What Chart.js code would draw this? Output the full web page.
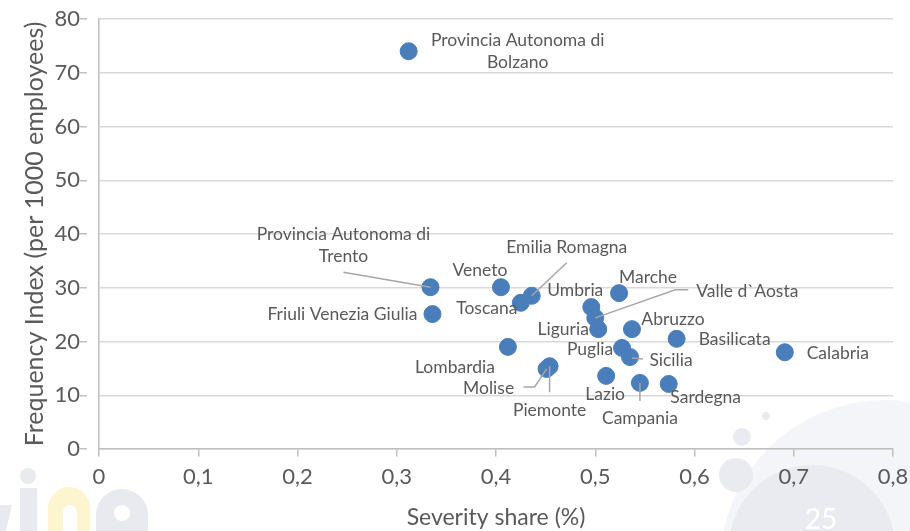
<!DOCTYPE html>
<html>
<head>
<meta charset="utf-8">
<script src="https://cdn.jsdelivr.net/npm/chart.js@4.4.0/dist/chart.umd.min.js"></script>
<style>
  body { margin: 0; background: #fff; }
  #wrap { width: 910px; height: 531px; }
</style>
</head>
<body>
<div id="wrap"><canvas id="scatterChart" width="910" height="531"></canvas></div>
<script>
// Data
const regions = [
    'Provincia Autonoma di Bolzano', 'Provincia Autonoma di Trento', 'Friuli Venezia Giulia',
    'Veneto', 'Emilia Romagna', 'Toscana', 'Umbria', 'Valle d`Aosta', 'Liguria', 'Marche',
    'Abruzzo', 'Basilicata', 'Calabria', 'Puglia', 'Sicilia', 'Lombardia', 'Molise',
    'Piemonte', 'Lazio', 'Campania', 'Sardegna'
];
const severityShare = [
    0.312, 0.334, 0.336, 0.405, 0.436, 0.425, 0.496, 0.500, 0.503, 0.524,
    0.537, 0.582, 0.691, 0.527, 0.535, 0.412, 0.451, 0.454, 0.511, 0.545, 0.574
];
const frequencyIndex = [
    74.0, 30.1, 25.1, 30.1, 28.5, 27.2, 26.4, 24.4, 22.3, 29.0,
    22.3, 20.5, 18.0, 18.8, 17.1, 19.0, 14.9, 15.4, 13.6, 12.3, 12.1
];
const xTicks = [0, 0.1, 0.2, 0.3, 0.4, 0.5, 0.6, 0.7, 0.8];
const yTicks = [0, 10, 20, 30, 40, 50, 60, 70, 80];

// Label placement (pixel offsets from each point) and leader lines
const labelLayout = {
    'Provincia Autonoma di Bolzano': { dx: 109, dy: -11, lines: ['Provincia Autonoma di', 'Bolzano'] },
    'Provincia Autonoma di Trento': { dx: -87, dy: -53, lines: ['Provincia Autonoma di', 'Trento'], leader: [[-87, -15], [0, 0]] },
    'Friuli Venezia Giulia': { dx: -15, dy: 0, align: 'right' },
    'Veneto': { dx: -21, dy: -17 },
    'Emilia Romagna': { dx: 35, dy: -48, leader: [[35, -33], [0, 0]] },
    'Toscana': { dx: -34, dy: 6 },
    'Umbria': { dx: -16, dy: -17 },
    'Valle d`Aosta': { dx: 101, dy: -26, align: 'left', leader: [[0, 0], [80, -28], [93, -28]] },
    'Liguria': { dx: -35, dy: 0 },
    'Marche': { dx: 29, dy: -16 },
    'Abruzzo': { dx: 41, dy: -10 },
    'Basilicata': { dx: 58, dy: 1 },
    'Calabria': { dx: 53, dy: 1 },
    'Puglia': { dx: -32, dy: 1 },
    'Sicilia': { dx: 41, dy: 3, leader: [[2, 1], [13, 2]] },
    'Lombardia': { dx: -53, dy: 20 },
    'Molise': { dx: -58, dy: 19, leader: [[-23, 18], [-12, 18], [0, 0]] },
    'Piemonte': { dx: 0, dy: 44, leader: [[0, 0], [0, 26]] },
    'Lazio': { dx: -1, dy: 18 },
    'Campania': { dx: 0, dy: 35, leader: [[0, 0], [0, 18]] },
    'Sardegna': { dx: 37, dy: 13 }
};

const textColor = '#595959';
const fontFamily = 'Lato, "Open Sans", sans-serif';

// Faint slide decorations behind the chart
const slideBackground = {
    id: 'slideBackground',
    beforeDraw(chart) {
        const ctx = chart.ctx;
        ctx.save();
        ctx.fillStyle = '#ffffff';
        ctx.fillRect(0, 0, chart.width, chart.height);

        // bottom right circles
        ctx.fillStyle = '#fdeee2';
        ctx.beginPath(); ctx.arc(918, 440, 18, 0, Math.PI * 2); ctx.fill();
        ctx.fillStyle = '#f4f5f8';
        ctx.beginPath(); ctx.arc(885, 565, 165, 0, Math.PI * 2); ctx.fill();
        ctx.fillStyle = '#e9ebf0';
        ctx.beginPath(); ctx.arc(812, 548, 83, 0, Math.PI * 2); ctx.fill();
        ctx.beginPath(); ctx.arc(742, 437, 9, 0, Math.PI * 2); ctx.fill();
        ctx.beginPath(); ctx.arc(766, 416, 4, 0, Math.PI * 2); ctx.fill();
        ctx.beginPath(); ctx.arc(736, 475, 17, 0, Math.PI * 2); ctx.fill();
        ctx.fillStyle = '#ffffff';
        ctx.font = '28px ' + fontFamily;
        ctx.textAlign = 'center';
        ctx.textBaseline = 'middle';
        ctx.fillText('25', 821, 520);

        // bottom left logo
        ctx.fillStyle = '#e8eaf0';
        ctx.beginPath(); ctx.arc(28, 476, 8, 0, Math.PI * 2); ctx.fill();
        ctx.fillRect(20, 488, 17, 43);
        ctx.beginPath(); ctx.moveTo(0, 505); ctx.lineTo(12, 505); ctx.lineTo(6, 531); ctx.lineTo(0, 531); ctx.fill();
        ctx.beginPath(); ctx.roundRect(96, 489, 52, 60, [26, 26, 0, 0]); ctx.fill();
        ctx.fillStyle = '#fdf5cf';
        ctx.beginPath(); ctx.roundRect(48, 487, 42, 60, [21, 21, 0, 0]); ctx.fill();
        ctx.fillStyle = '#ffffff';
        ctx.beginPath(); ctx.roundRect(63, 505, 14, 40, [7, 7, 0, 0]); ctx.fill();
        ctx.beginPath(); ctx.arc(122, 513, 8, 0, Math.PI * 2); ctx.fill();
        ctx.restore();
    }
};

// Region names next to the points, with leader lines where needed
const pointLabels = {
    id: 'pointLabels',
    afterDatasetsDraw(chart) {
        const ctx = chart.ctx;
        const meta = chart.getDatasetMeta(0);
        ctx.save();
        ctx.font = '17.5px ' + fontFamily;
        ctx.fillStyle = textColor;
        ctx.strokeStyle = '#a6a6a6';
        ctx.lineWidth = 1.5;
        ctx.textBaseline = 'middle';
        meta.data.forEach((pt, i) => {
            const name = regions[i];
            const cfg = labelLayout[name] || { dx: 0, dy: -18 };
            const { x, y } = pt.getProps(['x', 'y'], true);
            if (cfg.leader) {
                ctx.beginPath();
                cfg.leader.forEach((p, j) => {
                    if (j === 0) ctx.moveTo(x + p[0], y + p[1]);
                    else ctx.lineTo(x + p[0], y + p[1]);
                });
                ctx.stroke();
            }
            const lines = cfg.lines || [name];
            ctx.textAlign = cfg.align || 'center';
            lines.forEach((line, k) => {
                ctx.fillText(line, x + cfg.dx, y + cfg.dy + k * 22);
            });
        });
        ctx.restore();
    }
};

const ctx = document.getElementById('scatterChart').getContext('2d');

new Chart(ctx, {
    type: 'scatter',
    data: {
        datasets: [{
            label: 'Regioni',
            data: severityShare.map((v, i) => ({ x: v, y: frequencyIndex[i] })),
            backgroundColor: '#4a7ebb',
            borderColor: '#4a7ebb',
            pointRadius: 8.5,
            pointHoverRadius: 8.5
        }]
    },
    options: {
        responsive: false,
        animation: false,
        layout: { padding: { left: 0, right: 17, top: 19, bottom: 0 } },
        scales: {
            x: {
                type: 'linear',
                min: xTicks[0],
                max: xTicks[xTicks.length - 1],
                afterBuildTicks: axis => { axis.ticks = xTicks.map(v => ({ value: v })); },
                afterFit: axis => { axis.height = 82; },
                grid: {
                    drawOnChartArea: false,
                    drawTicks: true,
                    tickLength: 14,
                    tickBorderDash: [7, 30],
                    color: '#bfbfbf',
                    lineWidth: 1.5
                },
                border: { color: '#bfbfbf', width: 1.5 },
                ticks: {
                    padding: 1,
                    color: textColor,
                    font: { family: fontFamily, size: 22 },
                    callback: v => v === 0 ? '0' : v.toFixed(1).replace('.', ',')
                },
                title: {
                    display: true,
                    text: 'Severity share (%)',
                    color: textColor,
                    font: { family: fontFamily, size: 23 },
                    padding: { top: 0, bottom: 0 }
                }
            },
            y: {
                min: yTicks[0],
                max: yTicks[yTicks.length - 1],
                afterBuildTicks: axis => { axis.ticks = yTicks.map(v => ({ value: v })); },
                afterFit: axis => { axis.width = 99; },
                grid: {
                    color: '#d9d9d9',
                    lineWidth: 1.5,
                    tickLength: 19,
                    tickBorderDash: [7, 30],
                    tickColor: '#bfbfbf'
                },
                border: { color: '#bfbfbf', width: 1.5 },
                ticks: {
                    padding: 0,
                    color: textColor,
                    font: { family: fontFamily, size: 22 }
                },
                title: {
                    display: true,
                    text: 'Frequency Index (per 1000 employees)',
                    color: textColor,
                    font: { family: fontFamily, size: 25 },
                    padding: { top: 20, bottom: 0 }
                }
            }
        },
        plugins: {
            legend: { display: false },
            tooltip: { enabled: false }
        }
    },
    plugins: [slideBackground, pointLabels]
});
</script>
</body>
</html>
